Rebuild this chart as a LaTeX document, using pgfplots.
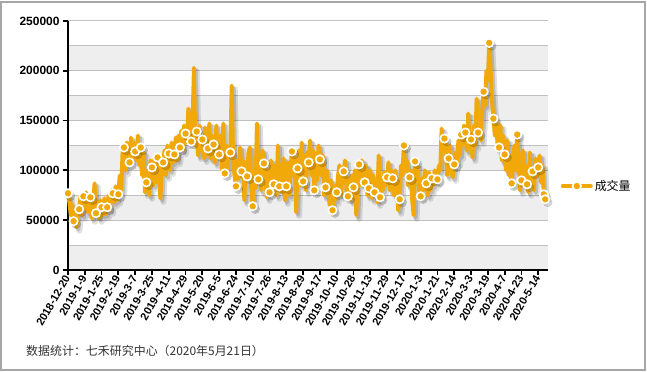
\documentclass[border=0pt]{standalone}
\usepackage{pgfplots}
\pgfplotsset{compat=1.18}
\usepackage{pgfplotstable}
\usepackage{fontspec}
\setmainfont{Liberation Sans}
\newfontfamily\cjk{Noto Sans CJK SC}
\definecolor{myorange}{RGB}{241,169,10}
\definecolor{band}{RGB}{238,238,238}
\definecolor{gridc}{RGB}{192,192,192}

\pgfplotstableread{
x y
0 77000
1 68000
2 55000
3 66000
4 49000
5 60000
6 43000
7 58000
8 61000
9 75000
10 55000
11 74000
12 62000
13 78000
14 58000
15 70000
16 73000
17 52000
18 68000
19 87000
20 57000
21 66000
22 52000
23 70000
24 63000
25 55000
26 72000
27 56000
28 63000
29 75000
30 60000
31 80000
32 77000
33 68000
34 84000
35 70000
36 76000
37 95000
38 80000
39 118000
40 123000
41 100000
42 128000
43 110000
44 108000
45 133000
46 112000
47 128000
48 119000
49 110000
50 135000
51 105000
52 123000
53 95000
54 118000
55 78000
56 88000
57 100000
58 75000
59 110000
60 103000
61 85000
62 112000
63 88000
64 113000
65 95000
66 72000
67 100000
68 108000
69 120000
70 95000
71 125000
72 117000
73 100000
74 128000
75 108000
76 116000
77 133000
78 110000
79 135000
80 123000
81 140000
82 120000
83 145000
84 137000
85 128000
86 162000
87 130000
88 129000
89 145000
90 203000
91 125000
92 139000
93 115000
94 145000
95 120000
96 131000
97 112000
98 143000
99 115000
100 122000
101 147000
102 112000
103 135000
104 126000
105 108000
106 145000
107 115000
108 116000
109 135000
110 100000
111 147000
112 97000
113 125000
114 100000
115 120000
116 118000
117 185000
118 110000
119 95000
120 84000
121 110000
122 92000
123 123000
124 99000
125 110000
126 70000
127 108000
128 94000
129 118000
130 123000
131 80000
132 64000
133 100000
134 82000
135 147000
136 91000
137 115000
138 80000
139 120000
140 107000
141 95000
142 73000
143 100000
144 78000
145 110000
146 95000
147 86000
148 105000
149 75000
150 125000
151 84000
152 105000
153 78000
154 112000
155 70000
156 84000
157 108000
158 75000
159 100000
160 119000
161 95000
162 112000
163 58000
164 102000
165 120000
166 85000
167 128000
168 89000
169 115000
170 80000
171 118000
172 108000
173 130000
174 95000
175 120000
176 80000
177 105000
178 90000
179 125000
180 111000
181 95000
182 115000
183 75000
184 83000
185 100000
186 78000
187 65000
188 90000
189 60000
190 85000
191 70000
192 78000
193 95000
194 105000
195 75000
196 92000
197 99000
198 110000
199 80000
200 74000
201 92000
202 70000
203 95000
204 83000
205 100000
206 55000
207 90000
208 106000
209 85000
210 110000
211 92000
212 88000
213 105000
214 75000
215 82000
216 100000
217 72000
218 95000
219 78000
220 88000
221 68000
222 115000
223 73000
224 90000
225 80000
226 98000
227 85000
228 93000
229 108000
230 80000
231 100000
232 92000
233 75000
234 100000
235 80000
236 60000
237 71000
238 105000
239 95000
240 125000
241 100000
242 110000
243 85000
244 93000
245 100000
246 70000
247 55000
248 109000
249 95000
250 105000
251 80000
252 74000
253 92000
254 80000
255 100000
256 87000
257 75000
258 98000
259 80000
260 92000
261 85000
262 100000
263 88000
264 91000
265 105000
266 100000
267 142000
268 120000
269 132000
270 125000
271 95000
272 112000
273 125000
274 100000
275 93000
276 106000
277 118000
278 108000
279 130000
280 115000
281 136000
282 125000
283 145000
284 138000
285 120000
286 157000
287 125000
288 131000
289 113000
290 145000
291 125000
292 172000
293 138000
294 150000
295 130000
296 160000
297 179000
298 165000
299 200000
300 190000
301 228000
302 200000
303 170000
304 152000
305 135000
306 150000
307 125000
308 123000
309 145000
310 110000
311 135000
312 116000
313 100000
314 130000
315 95000
316 115000
317 87000
318 105000
319 125000
320 100000
321 136000
322 110000
323 80000
324 90000
325 120000
326 85000
327 105000
328 86000
329 78000
330 118000
331 90000
332 99000
333 80000
334 112000
335 95000
336 103000
337 115000
338 88000
339 105000
340 76000
341 71000
}\linedata

\pgfplotstableread{
x y
0 77000
4 49000
8 61000
11 74000
16 73000
20 57000
24 63000
28 63000
32 77000
36 76000
40 123000
44 108000
48 119000
52 123000
56 88000
60 103000
64 113000
68 108000
72 117000
76 116000
80 123000
84 137000
88 129000
92 139000
96 131000
100 122000
104 126000
108 116000
112 97000
116 118000
120 84000
124 99000
128 94000
132 64000
136 91000
140 107000
144 78000
147 86000
151 84000
156 84000
160 119000
164 102000
168 89000
172 108000
176 80000
180 111000
184 83000
189 60000
192 78000
197 99000
200 74000
204 83000
208 106000
212 88000
215 82000
219 78000
223 73000
228 93000
232 92000
237 71000
240 125000
244 93000
248 109000
252 74000
256 87000
260 92000
264 91000
269 132000
272 112000
276 106000
281 136000
284 138000
288 131000
293 138000
297 179000
301 228000
304 152000
308 123000
312 116000
317 87000
321 136000
324 90000
328 86000
332 99000
336 103000
340 76000
341 71000
}\markdata

\begin{document}
\begin{tikzpicture}
\path (0,0) rectangle (647bp,372bp);
\begin{axis}[
  set layers,
  at={(68bp,102bp)}, anchor=south west,
  scale only axis, width=480bp, height=249bp,
  xmin=0, xmax=343, ymin=0, ymax=250000,
  axis x line*=bottom, axis y line*=left,
  axis line style={line width=2.2bp, black, -},
  xtick={0,12,...,336},
  xticklabels={2018-12-20,2019-1-9,2019-1-25,2019-2-19,2019-3-7,2019-3-25,2019-4-11,2019-4-29,2019-5-20,2019-6-5,2019-6-24,2019-7-10,2019-7-26,2019-8-13,2019-8-29,2019-9-17,2019-10-10,2019-10-28,2019-11-13,2019-11-29,2019-12-17,2020-1-3,2020-1-21,2020-2-14,2020-3-3,2020-3-19,2020-4-7,2020-4-23,2020-5-14},
  x tick label style={rotate=60, anchor=east, inner sep=1.5bp, font=\fontsize{11}{12}\selectfont\bfseries},
  ytick={0,50000,...,250000},
  minor ytick={25000,75000,...,225000},
  y tick label style={font=\fontsize{12}{14}\selectfont\bfseries},
  scaled y ticks=false,
  yticklabel={\pgfmathprintnumber[fixed, precision=0, set thousands separator={}, assume math mode=true]{\tick}},
  tick align=outside,
  major tick length=5bp, minor tick length=0pt,
  tick style={line width=1.8bp, black},
  ymajorgrids, yminorgrids,
  major grid style={gridc, line width=1bp},
  minor grid style={gridc, line width=1bp},
  clip=false,
  legend style={draw=none, fill=none, at={(1.02,0.337)}, anchor=west, font=\cjk\fontsize{12}{14}\selectfont, legend cell align=left},
  legend image code/.code={\draw[#1, mark repeat=2, mark phase=2, line cap=round] plot coordinates {(0bp,0bp) (14bp,0bp) (28bp,0bp)};},
]
\pgfplotsextra{
\begin{pgfonlayer}{axis background}
\fill[band] (rel axis cs:0,0) rectangle (rel axis cs:1,0.1);
\fill[band] (rel axis cs:0,0.2) rectangle (rel axis cs:1,0.3);
\fill[band] (rel axis cs:0,0.4) rectangle (rel axis cs:1,0.5);
\fill[band] (rel axis cs:0,0.6) rectangle (rel axis cs:1,0.7);
\fill[band] (rel axis cs:0,0.8) rectangle (rel axis cs:1,0.9);
\end{pgfonlayer}
}
\addplot[forget plot, no markers, black, opacity=0.12, line width=6bp, line join=round, xshift=3bp, yshift=-3.5bp] table[x=x,y=y] {\linedata};
\addplot[forget plot, no markers, black, opacity=0.15, line width=4bp, line join=round, xshift=2bp, yshift=-2.5bp] table[x=x,y=y] {\linedata};
\addplot[forget plot, only marks, mark=*, mark size=4.5bp, black, opacity=0.15, mark options={draw=none}, xshift=2.5bp, yshift=-3bp] table[x=x,y=y] {\markdata};
\addplot[forget plot, no markers, myorange, line width=4bp, line join=round] table[x=x,y=y] {\linedata};
\addplot[forget plot, only marks, mark=*, mark size=4.2bp, mark options={fill=myorange, draw=white, line width=1.6bp}] table[x=x,y=y] {\markdata};
\addlegendimage{myorange, line width=4bp, mark=*, mark size=4.2bp, mark options={fill=myorange, draw=white, line width=1.6bp}}
\addlegendentry{成交量}
\end{axis}
\node[anchor=base west, font=\cjk\fontsize{12}{14}\selectfont, text=black!80, inner sep=0pt] at (26bp,17bp) {数据统计：七禾研究中心（2020年5月21日）};
\draw[gray!70, line width=2bp] (1bp,2bp) rectangle (645bp,370bp);
\end{tikzpicture}
\end{document}
